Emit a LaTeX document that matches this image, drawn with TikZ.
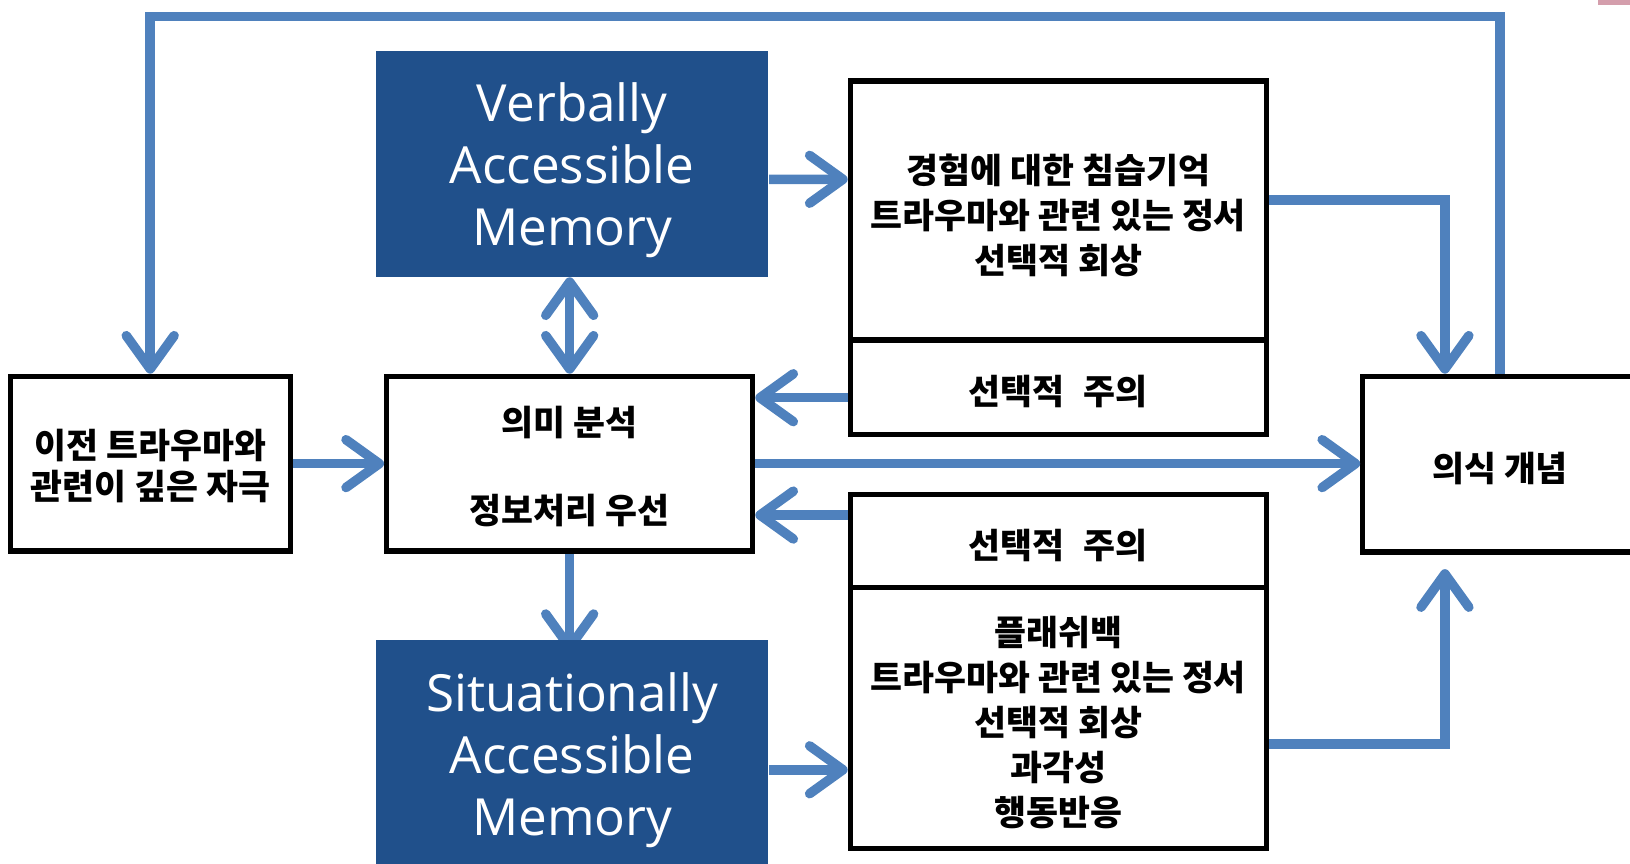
\documentclass[tikz,border=0pt]{standalone}
\usepackage{fontspec}
\setmainfont{Open Sans}
\newfontfamily\kr{Noto Sans CJK KR}
\usepackage{tikz}
\usetikzlibrary{arrows.meta,positioning,backgrounds}
\usepackage{xcolor}
\definecolor{ptblue}{RGB}{79,129,189}
\definecolor{memblue}{RGB}{32,80,139}
\definecolor{ptpink}{RGB}{212,158,172}
\newcommand{\lift}[1]{\rule{0pt}{#1}}
\newcommand{\sink}{\rule[-2pt]{0pt}{0pt}}
\tikzstyle{flow} = [line width=2.6pt,->,>={Straight Barb[length=3.2mm,width=4.6mm,round]},color=ptblue]
\tikzstyle{box} = [draw, line width=1.4pt, align=center, inner sep=0pt, font=\kr\bfseries\fontsize{9.5}{12.3}\selectfont,
  execute at begin node={\lift{11.5pt}}, execute at end node={\sink}]
\tikzstyle{mem} = [fill=memblue, text=white, align=center, inner sep=0pt, font=\fontsize{14}{17}\selectfont]

\begin{document}
\begin{tikzpicture}[x=0.01cm, y=-0.01cm]
\useasboundingbox (0,0) rectangle (1568,831);
\fill[ptpink] (1537,0) rectangle (1568,5);

% Left and middle
\node[box, minimum width=2.69cm, minimum height=1.68cm, font=\kr\bfseries\fontsize{9.5}{11.1}\selectfont] (Stim) at (144.5,446) {\lift{10.4pt}이전 트라우마와\\관련이 깊은 자극\sink};
\node[box, minimum width=3.52cm, minimum height=1.68cm] (Sem) at (548,446) {\lift{10.6pt}의미 분석\\[4.2mm]정보처리 우선\sink};
\node[mem, minimum width=3.77cm, minimum height=2.17cm] (VAM) at (550.5,157.5) {\lift{14pt}Verbally\\Accessible\\Memory};
\node[mem, minimum width=3.77cm, minimum height=2.19cm] (SAM) at (550.5,725.5) {\lift{14pt}Situationally\\Accessible\\Memory};

% Right column
\node[box, minimum width=4cm, minimum height=2.49cm] (Rec) at (1018,202.5) {\lift{11.8pt}경험에 대한 침습기억\\트라우마와 관련 있는 정서\\선택적 회상\sink};
\node[box, minimum width=4cm, minimum height=0.91cm, below=-1.4pt of Rec] (AtA) {선택적\hspace{0.55em}주의};
\node[box, minimum width=4cm, minimum height=0.89cm] (AtB) at (1018,520.5) {선택적\hspace{0.55em}주의};
\node[box, minimum width=4cm, minimum height=2.51cm, below=-1.4pt of AtB] (Fl) {\lift{11.4pt}플래쉬백\\트라우마와 관련 있는 정서\\선택적 회상\\과각성\\행동반응\sink};
\node[box, minimum width=2.64cm, minimum height=1.69cm] (Con) at (1443,446.5) {의식 개념};

% Arrows
\coordinate (Top) at (0,16);
\draw[flow] (Con.north) -- (Con.north |- Top) -| (Stim.north);
\draw[flow] (Stim.east) -- (Sem.west);
\draw[flow, <->] (Sem.north |- VAM.south) -- (Sem.north);
\begin{scope}[on background layer]
\draw[flow, shorten >=-1.2mm] (Sem.south) -- (Sem.south |- SAM.north);
\end{scope}
\draw[flow] ([yshift=-1.5mm]VAM.east) -- ([yshift=3mm]Rec.west);
\draw[flow] ([yshift=1mm]Rec.east) -| ([xshift=-5.3mm]Con.north);
\draw[flow] ([yshift=-1mm]AtA.west) coordinate (a1) -- (Sem.east |- a1);
\draw[flow] (Sem.east) -- (Sem.east -| Con.west);
\draw[flow] ([yshift=2.5mm]AtB.west) coordinate (a2) -- (Sem.east |- a2);
\draw[flow] ([yshift=-1.5mm]SAM.east) coordinate (s1) -- (Fl.west |- s1);
\draw[flow, shorten >=1.4mm] ([yshift=-2.5mm]Fl.east) -| ([xshift=-5.3mm]Con.south);
\end{tikzpicture}
\end{document}
